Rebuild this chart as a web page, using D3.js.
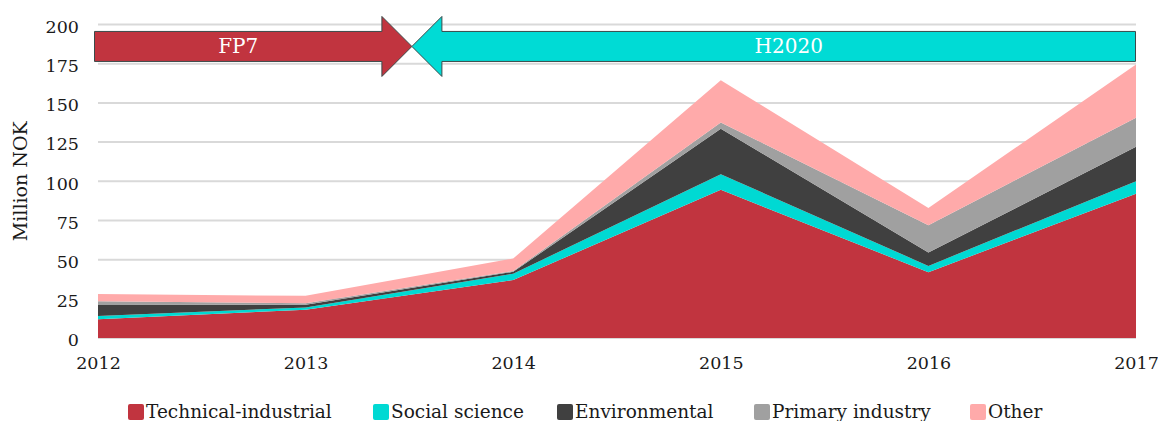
<!DOCTYPE html>
<html>
<head>
<meta charset="utf-8">
<script src="https://cdn.jsdelivr.net/npm/d3@7"></script>
<style>
  html, body { margin: 0; padding: 0; background: #fff; }
  svg text { font-family: "DejaVu Serif", serif; fill: #1a1a1a; }
</style>
</head>
<body>
<div id="container"></div>
<script>
// chart values
const years = [2012, 2013, 2014, 2015, 2016, 2017];
const technical = [12, 18, 37, 94.5, 42, 92];
const social = [2, 1.5, 4, 10, 4, 8];
const environmental = [7, 1.7, 1.2, 29, 8.5, 22];
const primary = [2.5, 1, 0.5, 4, 17.5, 18.5];
const other = [4.5, 4.7, 8, 27, 11, 34];

const seriesNames = ['Technical-industrial', 'Social science', 'Environmental', 'Primary industry', 'Other'];
const seriesKeys = ['technical', 'social', 'environmental', 'primary', 'other'];
const colors = ['#c1343f', '#00d9d3', '#404040', '#a0a0a0', '#ffaaaa'];
const yTicks = [0, 25, 50, 75, 100, 125, 150, 175, 200];

// programme periods drawn as arrows
const programmes = ['FP7', 'H2020'];
const programmeStart = [2012, 2017];
const programmeEnd = [2013.512, 2013.512];
const programmeColors = ['#c1343f', '#00dbd5'];

const WIDTH = 1158;
const HEIGHT = 421;
const MARGIN = { TOP: 24.5, BOTTOM: 83, LEFT: 98, RIGHT: 22 };

const svg = d3.select('#container')
    .append('svg')
    .attr('width', WIDTH)
    .attr('height', HEIGHT);

const x = d3.scaleLinear()
    .domain([2012, 2017])
    .range([MARGIN.LEFT, WIDTH - MARGIN.RIGHT]);

const y = d3.scaleLinear()
    .domain([0, 200])
    .range([HEIGHT - MARGIN.BOTTOM, MARGIN.TOP]);

const table = years.map((yr, i) => ({
    year: yr,
    technical: technical[i],
    social: social[i],
    environmental: environmental[i],
    primary: primary[i],
    other: other[i]
}));

// gridlines
svg.append('g')
    .attr('class', 'grid')
    .selectAll('line')
    .data(yTicks)
    .enter()
    .append('line')
      .attr('x1', x(2012))
      .attr('x2', x(2017))
      .attr('y1', d => y(d))
      .attr('y2', d => y(d))
      .attr('stroke', '#d9d9d9')
      .attr('stroke-width', 2);

// stacked areas
const stack = d3.stack().keys(seriesKeys);
const layers = stack(table);

const area = d3.area()
    .x(d => x(d.data.year))
    .y0(d => y(d[0]))
    .y1(d => y(d[1]));

svg.append('g')
    .selectAll('path')
    .data(layers)
    .enter()
    .append('path')
      .attr('d', area)
      .attr('fill', (d, i) => colors[i]);

// y axis labels
const yAxis = d3.axisLeft(y)
    .tickValues(yTicks)
    .tickSize(0)
    .tickPadding(19);

svg.append('g')
    .attr('transform', `translate(${MARGIN.LEFT}, 0)`)
    .call(yAxis)
    .call(g => g.select('.domain').remove())
    .selectAll('text')
      .attr('font-family', '"DejaVu Serif", serif')
      .attr('font-size', 17.5)
      .attr('fill', '#1a1a1a')
      .attr('dy', '0.45em');

// x axis labels
const xAxis = d3.axisBottom(x)
    .tickValues(years)
    .tickFormat(d3.format('d'))
    .tickSize(0)
    .tickPadding(19);

svg.append('g')
    .attr('transform', `translate(0, ${y(0)})`)
    .call(xAxis)
    .call(g => g.select('.domain').remove())
    .selectAll('text')
      .attr('font-family', '"DejaVu Serif", serif')
      .attr('font-size', 17.5)
      .attr('fill', '#1a1a1a');

// y axis title
svg.append('text')
    .attr('transform', `translate(27, ${(y(0) + y(200)) / 2}) rotate(-90)`)
    .attr('text-anchor', 'middle')
    .attr('font-size', 19)
    .text('Million NOK');

// programme arrows
const arrowY = y(186);
const bodyHalf = 15;
const headHalf = 30;
const headLen = 30;

programmes.forEach((name, i) => {
    const x0 = x(programmeStart[i]) + (i === 0 ? -3.5 : -0.5);
    const tip = x(programmeEnd[i]);
    const dir = tip > x0 ? 1 : -1;
    const base = tip - dir * headLen;
    const pts = [
        [x0, arrowY - bodyHalf],
        [base, arrowY - bodyHalf],
        [base, arrowY - headHalf],
        [tip, arrowY],
        [base, arrowY + headHalf],
        [base, arrowY + bodyHalf],
        [x0, arrowY + bodyHalf]
    ];
    svg.append('path')
        .attr('d', d3.line()(pts) + 'Z')
        .attr('fill', programmeColors[i])
        .attr('stroke', '#3a4a4a')
        .attr('stroke-width', 1);
    svg.append('text')
        .attr('x', (x0 + base) / 2)
        .attr('y', arrowY + 7)
        .attr('text-anchor', 'middle')
        .attr('font-size', 20)
        .style('fill', '#ffffff')
        .text(name);
});

// legend
const legendX = [128, 373, 557, 754, 970];
const legend = svg.append('g').attr('class', 'legend');

seriesNames.forEach((name, i) => {
    legend.append('rect')
        .attr('x', legendX[i])
        .attr('y', 404)
        .attr('width', 16)
        .attr('height', 16)
        .attr('rx', 2)
        .attr('fill', colors[i]);
    legend.append('text')
        .attr('x', legendX[i] + 18)
        .attr('y', 418)
        .attr('font-size', 18.5)
        .text(name);
});
</script>
</body>
</html>
